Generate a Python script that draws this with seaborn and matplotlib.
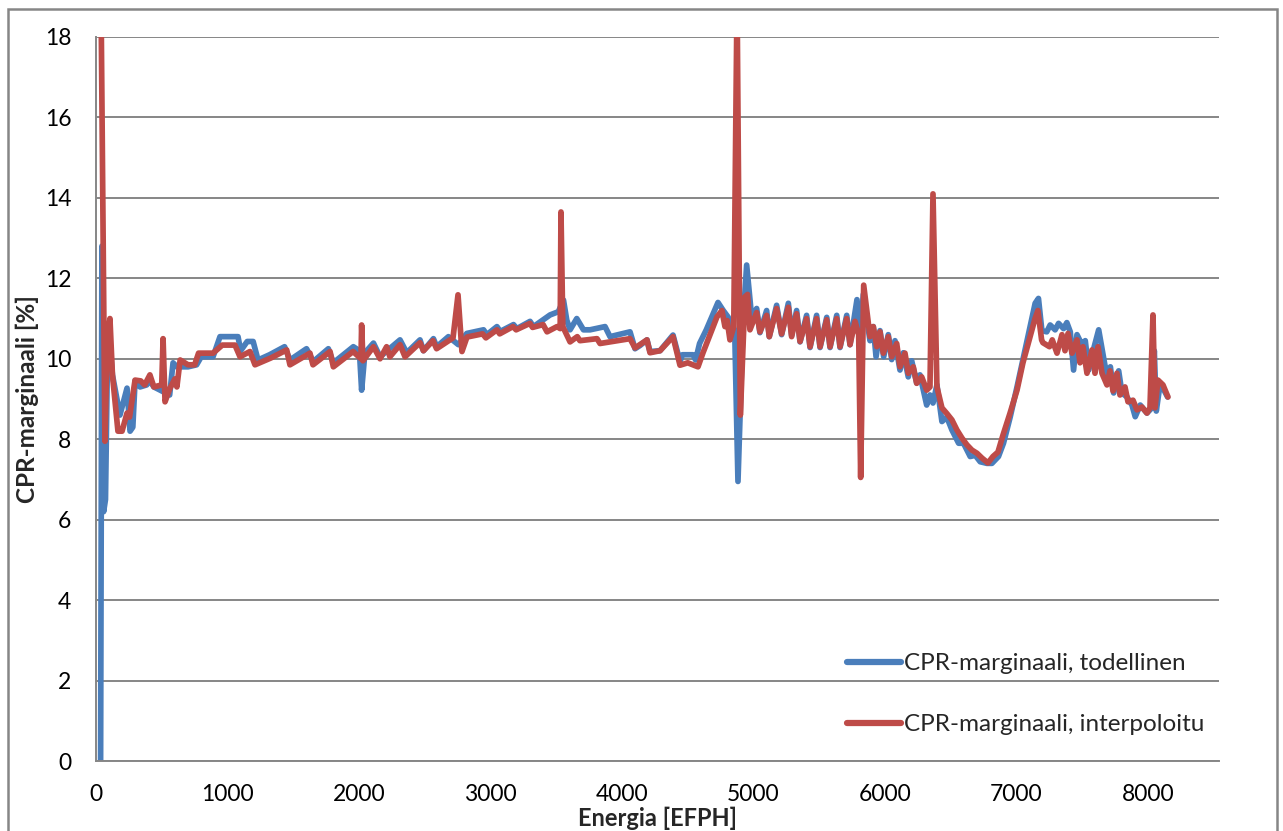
import seaborn as sns
import pandas as pd
import matplotlib.pyplot as plt
from matplotlib.patches import Rectangle

# CPR-marginaali, todellinen (blue)
x_tod = [35, 40, 45, 52, 58, 72, 85, 100, 125, 182, 236, 259, 280, 297, 335, 385, 410, 440,
         560, 586, 615, 700, 765, 800, 890, 943, 1080, 1100, 1150, 1195, 1232, 1320, 1434, 1475,
         1601, 1652, 1767, 1805, 1957, 2003, 2020, 2045, 2110, 2160, 2312, 2363, 2464, 2490,
         2566, 2591, 2680, 2756, 2820, 2947, 2972, 3049, 3074, 3175, 3200, 3301, 3327, 3453,
         3516, 3555, 3580, 3605, 3656, 3707, 3757, 3871, 3909, 4061, 4099, 4137, 4190, 4213,
         4289, 4388, 4441, 4460, 4540, 4560, 4590, 4641, 4730, 4770, 4806, 4857, 4882, 4920,
         4948, 4987, 5024, 5049, 5100, 5120, 5176, 5214, 5265, 5290, 5328, 5354, 5404, 5430,
         5480, 5506, 5557, 5582, 5633, 5658, 5709, 5734, 5787, 5810, 5835, 5886, 5911, 5932,
         5962, 5990, 6025, 6051, 6076, 6114, 6140, 6177, 6203, 6241, 6266, 6317, 6342, 6365,
         6395, 6433, 6470, 6509, 6560, 6597, 6648, 6686, 6724, 6775, 6813, 6863, 6901, 6952,
         7004, 7054, 7104, 7142, 7167, 7193, 7230, 7256, 7294, 7320, 7358, 7383, 7409, 7434,
         7460, 7498, 7523, 7549, 7587, 7625, 7650, 7688, 7714, 7739, 7777, 7802, 7840, 7878,
         7903, 7941, 7992, 8030, 8048, 8063, 8093, 8149]
y_tod = [0.0, 6.2, 12.8, 9.0, 6.2, 6.5, 9.5, 10.6, 9.6, 8.6, 9.27, 8.2, 8.3, 9.45, 9.3, 9.35, 9.45, 9.3,
         9.1, 9.9, 9.8, 9.8, 9.85, 10.05, 10.05, 10.55, 10.55, 10.2, 10.43, 10.43, 9.97, 10.1, 10.3, 9.97,
         10.25, 9.93, 10.25, 9.9, 10.3, 10.2, 9.22, 10.15, 10.39, 10.05, 10.47, 10.15, 10.47, 10.2,
         10.5, 10.3, 10.55, 10.35, 10.63, 10.72, 10.6, 10.8, 10.68, 10.85, 10.75, 10.93, 10.8, 11.09,
         11.17, 11.46, 10.96, 10.72, 11.0, 10.72, 10.72, 10.8, 10.55, 10.67, 10.25, 10.33, 10.47, 10.18,
         10.2, 10.59, 9.93, 10.1, 10.1, 9.97, 10.38, 10.72, 11.4, 11.2, 11.04, 10.72, 6.95, 10.88,
         12.33, 11.0, 11.25, 10.65, 11.2, 10.55, 11.33, 10.6, 11.38, 10.58, 11.2, 10.42, 11.08, 10.28,
         11.08, 10.28, 11.03, 10.28, 11.08, 10.28, 11.08, 10.35, 11.47, 10.4, 11.6, 10.45, 10.8, 10.05,
         10.7, 10.05, 10.6, 9.98, 10.45, 9.72, 10.15, 9.55, 9.95, 9.4, 9.6, 8.85, 9.1, 8.9,
         9.35, 8.44, 8.55, 8.23, 7.9, 7.9, 7.57, 7.6, 7.44, 7.4, 7.4, 7.57, 7.9, 8.55,
         9.3, 10.05, 10.8, 11.38, 11.5, 10.7, 10.67, 10.84, 10.72, 10.88, 10.75, 10.9, 10.67, 9.72,
         10.6, 10.35, 10.45, 9.72, 10.25, 10.72, 10.25, 9.55, 9.8, 9.15, 9.7, 9.15, 9.05, 8.85,
         8.56, 8.85, 8.65, 8.78, 10.2, 8.7, 9.4, 9.05]

# CPR-marginaali, interpoloitu (red)
x_int = [38, 68, 85, 106, 125, 167, 198, 236, 255, 297, 340, 370, 410, 440, 500, 510, 525, 560,
         600, 615, 640, 700, 750, 780, 890, 960, 1057, 1095, 1171, 1209, 1330, 1450, 1475, 1627,
         1650, 1780, 1805, 1955, 2015, 2020, 2030, 2110, 2160, 2210, 2235, 2312, 2350, 2464, 2490,
         2563, 2590, 2715, 2753, 2783, 2821, 2940, 2965, 3049, 3070, 3171, 3195, 3300, 3320, 3400,
         3430, 3506, 3530, 3536, 3550, 3605, 3660, 3680, 3810, 3833, 4061, 4099, 4190, 4213, 4289,
         4388, 4441, 4500, 4578, 4616, 4722, 4760, 4783, 4800, 4821, 4850, 4875, 4900, 4935, 4955,
         4973, 5024, 5049, 5100, 5120, 5176, 5214, 5265, 5290, 5328, 5354, 5404, 5430, 5480, 5506,
         5557, 5582, 5633, 5658, 5709, 5734, 5772, 5800, 5815, 5838, 5886, 5911, 5937, 5962, 5987,
         6025, 6051, 6089, 6114, 6152, 6177, 6215, 6241, 6279, 6317, 6342, 6365, 6395, 6433, 6470,
         6509, 6547, 6585, 6623, 6661, 6700, 6738, 6783, 6821, 6859, 6897, 6951, 7004, 7049, 7103,
         7141, 7163, 7191, 7201, 7251, 7272, 7308, 7346, 7369, 7392, 7422, 7460, 7483, 7506, 7536,
         7574, 7597, 7620, 7650, 7688, 7711, 7734, 7764, 7787, 7825, 7848, 7886, 7916, 7954, 7992,
         8015, 8038, 8053, 8076, 8114, 8152]
y_int = [19.0, 7.95, 10.4, 11.0, 9.6, 8.2, 8.2, 8.65, 8.55, 9.47, 9.45, 9.35, 9.6, 9.3, 9.35, 10.5, 8.93, 9.25,
         9.5, 9.3, 9.97, 9.85, 9.85, 10.14, 10.14, 10.34, 10.34, 10.05, 10.18, 9.85, 10.02, 10.22, 9.85, 10.14,
         9.85, 10.18, 9.8, 10.18, 10.0, 10.84, 9.95, 10.3, 10.0, 10.3, 10.05, 10.35, 10.05, 10.4, 10.2,
         10.45, 10.25, 10.52, 11.59, 10.18, 10.54, 10.62, 10.52, 10.72, 10.62, 10.8, 10.72, 10.88, 10.78, 10.85,
         10.67, 10.8, 10.75, 13.65, 10.8, 10.42, 10.55, 10.45, 10.5, 10.38, 10.5, 10.27, 10.47, 10.15, 10.2,
         10.55, 9.84, 9.9, 9.8, 10.15, 11.04, 11.2, 10.8, 10.95, 10.47, 10.8, 19.0, 8.6, 11.54, 11.6,
         10.72, 11.15, 10.67, 11.08, 10.55, 11.25, 10.62, 11.28, 10.55, 11.12, 10.43, 11.0, 10.3, 11.0, 10.3,
         10.97, 10.3, 11.0, 10.3, 11.0, 10.35, 10.93, 10.6, 7.05, 11.83, 10.55, 10.8, 10.3, 10.67, 10.14,
         10.55, 10.05, 10.38, 9.8, 10.14, 9.64, 9.8, 9.39, 9.55, 9.22, 9.3, 14.1, 9.3, 8.78, 8.64,
         8.48, 8.23, 8.03, 7.86, 7.73, 7.65, 7.53, 7.41, 7.57, 7.68, 8.1, 8.65, 9.22, 9.9, 10.55,
         11.0, 11.2, 10.47, 10.4, 10.3, 10.47, 10.14, 10.6, 10.2, 10.63, 10.14, 10.47, 9.9, 10.3, 9.64,
         10.22, 9.64, 10.3, 9.64, 9.35, 9.7, 9.2, 9.64, 9.1, 9.3, 8.93, 8.97, 8.73, 8.8, 8.65,
         8.78, 11.09, 8.78, 9.47, 9.35, 9.05]

x_ticks = [0, 1000, 2000, 3000, 4000, 5000, 6000, 7000, 8000]
y_ticks = [0, 2, 4, 6, 8, 10, 12, 14, 16, 18]

sns.set_theme(style="white")
plt.rcParams['font.family'] = ['Lato', 'DejaVu Sans']

grey = '#868686'
fig = plt.figure(figsize=(12.83, 8.31), dpi=100)
ax = fig.add_axes([96 / 1283, 1 - 761 / 831, (1219 - 96) / 1283, (761 - 37) / 831])

line_kw = dict(lw=4.1, sort=False, estimator=None, solid_joinstyle='round', solid_capstyle='round')
sns.lineplot(x=x_tod, y=y_tod, ax=ax, color='#4A7EBB', label='CPR-marginaali, todellinen', **line_kw)
sns.lineplot(x=x_int, y=y_int, ax=ax, color='#BE4B48', label='CPR-marginaali, interpoloitu', **line_kw)

ax.set_xlim(0, 8540)
ax.set_ylim(0, 18)
ax.set_xticks(x_ticks)
ax.set_yticks(y_ticks)
ax.yaxis.grid(True, color=grey, lw=1.4)
ax.xaxis.grid(False)
ax.set_axisbelow(True)
for s in ['top', 'right']:
    ax.spines[s].set_visible(False)
for s in ['left', 'bottom']:
    ax.spines[s].set_color(grey)
    ax.spines[s].set_linewidth(1.4)
ax.tick_params(axis='both', direction='out', length=5.8, width=1.4, color=grey,
               labelsize=16.5, labelcolor='black')
ax.tick_params(axis='y', pad=12)
ax.tick_params(axis='x', pad=11)

ax.set_xlabel('Energia [EFPH]', fontsize=17, fontweight='bold', labelpad=1)
ax.set_ylabel('CPR-marginaali [%]', fontsize=17.5, fontweight='bold', labelpad=4)

leg = ax.legend(loc='upper left', bbox_to_anchor=(835 / 1283, 1 - 641 / 831),
                bbox_transform=fig.transFigure, frameon=False, fontsize=17.5,
                handlelength=2.2, handletextpad=0.15, labelspacing=1.65, borderpad=0)
for h in leg.get_lines():
    h.set_linewidth(4.5)

fig.patches.append(Rectangle((8 / 1283, -0.02), (1277 - 8) / 1283, 1.02 - 9 / 831,
                             transform=fig.transFigure, fill=False, edgecolor=grey, lw=1.8))

fig.savefig('out.png', dpi=100)
